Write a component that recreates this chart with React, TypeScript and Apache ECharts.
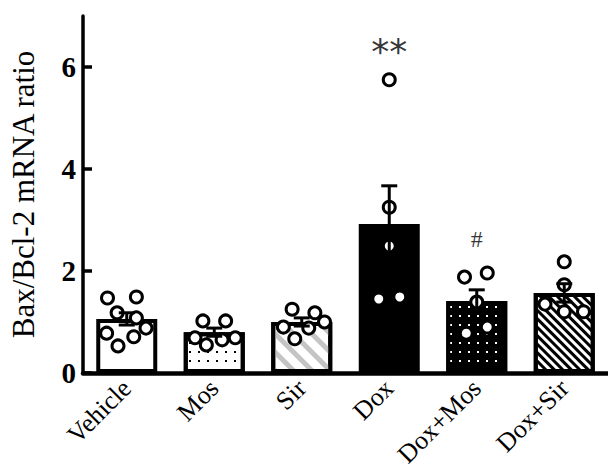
import React, { useEffect, useRef } from "react";
import * as echarts from "echarts";

const categories = ["Vehicle", "Mos", "Sir", "Dox", "Dox+Mos", "Dox+Sir"];
const means = [1.06, 0.8, 1.0, 2.92, 1.41, 1.57];
const sems = [0.12, 0.08, 0.08, 0.75, 0.22, 0.18];

const ptsVehicle = [1.47, 1.49, 1.18, 1.08, 0.78, 0.88, 0.71, 0.53];
const ptsMos = [1.02, 1.02, 0.69, 0.55, 0.65, 0.69];
const ptsSir = [1.25, 1.18, 0.9, 1.0, 0.88, 0.67];
const ptsDox = [5.75, 3.25, 2.49, 1.45, 1.49];
const ptsDoxMos = [1.88, 1.96, 1.39, 0.78, 0.9];
const ptsDoxSir = [2.18, 1.73, 1.35, 1.2, 1.2];
const allPoints = [ptsVehicle, ptsMos, ptsSir, ptsDox, ptsDoxMos, ptsDoxSir];

// horizontal jitter in category units
const jitterVehicle = [-0.22, 0.11, -0.11, 0.11, -0.23, 0.22, 0.08, -0.1];
const jitterMos = [-0.13, 0.13, -0.22, -0.09, 0.09, 0.24];
const jitterSir = [-0.11, 0.15, -0.21, 0.26, 0.08, -0.08];
const jitterDox = [0, 0, 0, -0.12, 0.12];
const jitterDoxMos = [-0.14, 0.12, 0, -0.12, 0.12];
const jitterDoxSir = [0, 0, -0.22, 0, 0.22];
const allJitter = [jitterVehicle, jitterMos, jitterSir, jitterDox, jitterDoxMos, jitterDoxSir];

const annotations = [
  { cat: 3, y: 6.3, text: "**" },
  { cat: 4, y: 2.62, text: "#" },
];

const serif = "'Liberation Serif', 'Times New Roman', serif";

export default function App() {
  const ref = useRef<HTMLDivElement>(null);
  useEffect(() => {
    const chart = echarts.init(ref.current!, null, { renderer: "svg" });
    const dots = (c: string) => ({
      symbol: "rect",
      symbolSize: 1,
      color: c,
      dashArrayX: [2, 7],
      dashArrayY: [2, 7],
      rotation: 0,
    });
    const stripes = (c: string, w: number, g: number) => ({
      symbol: "rect",
      symbolSize: 1,
      color: c,
      dashArrayX: [1, 0],
      dashArrayY: [w, g],
      rotation: Math.PI / 4,
    });
    const barStyles: any[] = [
      { color: "#fff" },
      { color: "#fff", decal: dots("#000") },
      { color: "#fff", decal: stripes("#c4c4c4", 5, 8) },
      { color: "#000" },
      { color: "#000", decal: dots("#fff") },
      { color: "#fff", decal: stripes("#000", 2.5, 3) },
    ];
    const scatterData: number[][] = [];
    allPoints.forEach((arr, i) =>
      arr.forEach((v, j) => scatterData.push([i + allJitter[i][j], v]))
    );
    chart.setOption({
      animation: false,
      grid: { left: 77, top: 16, width: 540, bottom: 97 },
      xAxis: [
        {
          type: "category",
          data: categories,
          axisLine: { lineStyle: { color: "#000", width: 4.5 } },
          axisTick: { show: false },
          axisLabel: {
            rotate: 45,
            fontSize: 26,
            fontFamily: serif,
            color: "#000",
            margin: 11,
            interval: 0,
          },
        },
        { type: "value", min: -0.5, max: 5.5, show: false },
      ],
      yAxis: {
        type: "value",
        min: 0,
        max: 7,
        interval: 2,
        name: "Bax/Bcl-2 mRNA ratio",
        nameLocation: "middle",
        nameGap: 44,
        nameTextStyle: { fontSize: 31, fontFamily: serif, color: "#000" },
        axisLine: { show: true, onZero: false, lineStyle: { color: "#000", width: 3.5 } },
        axisTick: { show: true, inside: true, length: 9, lineStyle: { color: "#000", width: 3.5 } },
        axisLabel: {
          fontSize: 29,
          fontWeight: "bold",
          fontFamily: serif,
          color: "#000",
          margin: 7,
          showMaxLabel: false,
        },
        splitLine: { show: false },
      },
      series: [
        {
          type: "bar",
          barWidth: 61,
          z: 2,
          data: means.map((v, i) => ({
            value: v,
            itemStyle: { ...barStyles[i], borderColor: "#000", borderWidth: 4 },
          })),
        },
        {
          type: "scatter",
          xAxisIndex: 1,
          z: 3,
          symbolSize: 12,
          itemStyle: { color: "#fff", borderColor: "#000", borderWidth: 3, opacity: 1 },
          data: scatterData,
        },
        {
          type: "custom",
          z: 4,
          data: means.map((m, i) => [i, m, sems[i]]),
          renderItem: (params: any, api: any) => {
            const i = api.value(0);
            const m = api.value(1);
            const s = api.value(2);
            const top = api.coord([i, m + s]);
            const bot = api.coord([i, m - s]);
            const hw = 8;
            const style = { stroke: "#000", lineWidth: 3 };
            return {
              type: "group",
              children: [
                { type: "line", shape: { x1: top[0], y1: top[1], x2: bot[0], y2: bot[1] }, style },
                { type: "line", shape: { x1: top[0] - hw, y1: top[1], x2: top[0] + hw, y2: top[1] }, style },
                { type: "line", shape: { x1: bot[0] - hw, y1: bot[1], x2: bot[0] + hw, y2: bot[1] }, style },
              ],
            };
          },
        },
        {
          type: "scatter",
          z: 5,
          symbolSize: 0,
          data: annotations.map((a) => ({
            value: [a.cat, a.y],
            label: {
              show: true,
              position: "inside",
              formatter: a.text,
              color: "#000",
              fontSize: a.text === "**" ? 36 : 24,
              fontFamily: a.text === "**" ? "'DejaVu Sans', sans-serif" : serif,
            },
          })),
        },
      ],
    });
    return () => chart.dispose();
  }, []);
  return (
    <div
      ref={ref}
      style={{ position: "fixed", left: 0, top: 0, width: 608, height: 470, background: "#fff" }}
    />
  );
}
